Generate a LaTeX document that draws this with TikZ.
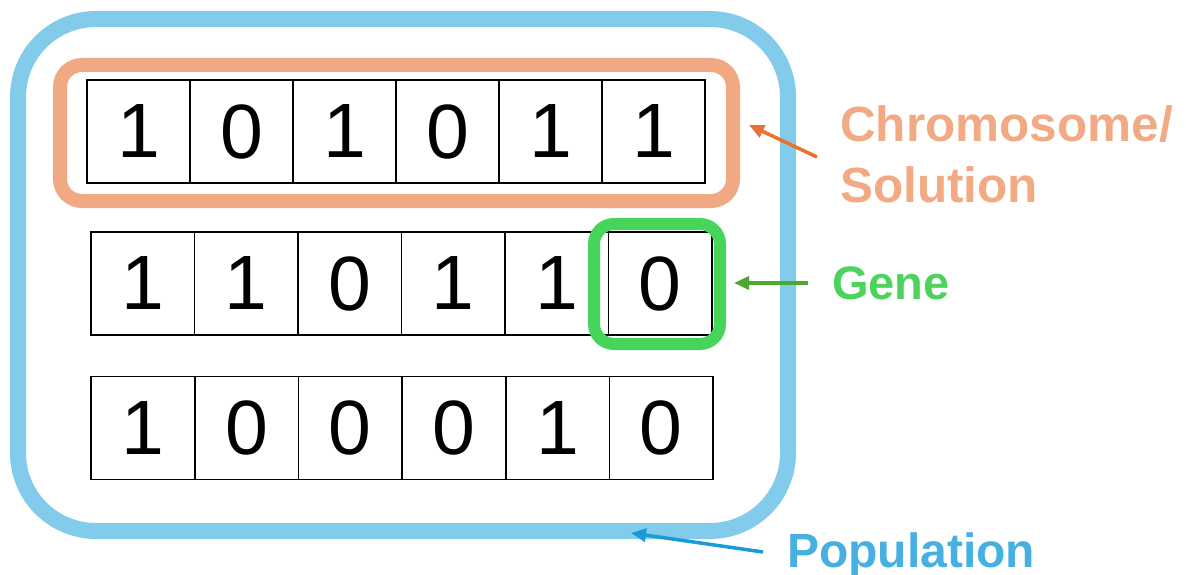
\documentclass[tikz,border=0pt]{standalone}
\usepackage{fontspec}
\setmainfont{Liberation Sans}
\usetikzlibrary{arrows.meta}
\definecolor{popbox}{HTML}{83CBEB}
\definecolor{poptext}{HTML}{45B0E1}
\definecolor{poparrow}{HTML}{1A9AD6}
\definecolor{chrbox}{HTML}{F1A983}
\definecolor{chrtext}{HTML}{F2AA84}
\definecolor{chrarrow}{HTML}{E97132}
\definecolor{genebox}{HTML}{47D45A}
\definecolor{genetext}{HTML}{4DD35D}
\definecolor{genearrow}{HTML}{4EA72E}
\tikzset{
  cell/.style={draw=black, line width=1.8pt, inner sep=0pt, minimum height=103pt,
    font=\fontsize{77}{77}\selectfont},
  lbl/.style={anchor=base west, inner sep=0pt, font=\bfseries\fontsize{48}{48}\selectfont},
  pointer/.style={line width=3.5pt, -{Triangle[length=15pt,width=13pt]}}
}
\begin{document}
\begin{tikzpicture}[x=1pt,y=-1pt]
\useasboundingbox (0,0) rectangle (1186,575);
% population box
\draw[popbox, line width=16pt, rounded corners=78pt] (18,19) rectangle (788,531);
% chromosome box
\draw[chrbox, line width=14pt, rounded corners=22pt] (60,65) rectangle (733,201);
% rows of cells
\foreach \d [count=\i] in {1,0,1,0,1,1}
  \node[cell, minimum width=103pt] (ra\i) at ({87+103*(\i-0.5)},131.5) {\d};
\foreach \d [count=\i] in {1,1,0,1,1,0}
  \node[cell, minimum width=103.5pt] (rb\i) at ({91+103.5*(\i-0.5)},283.5) {\d};
\foreach \d [count=\i] in {1,0,0,0,1,0}
  \node[cell, minimum width=103.7pt] (rc\i) at ({91+103.7*(\i-0.5)},428) {\d};
% gene box
\draw[genebox, line width=12pt, rounded corners=20pt] (594,224) rectangle (720,344);
% labels
\node[lbl, text=chrtext, font=\bfseries\fontsize{49.5}{49.5}\selectfont] (chrom) at (840,142) {Chromosome/};
\node[lbl, text=chrtext, font=\bfseries\fontsize{49.5}{49.5}\selectfont] (sol) at (840,202) {Solution};
\node[lbl, text=genetext, font=\bfseries\fontsize{47}{47}\selectfont] (gene) at (832,299) {Gene};
\node[lbl, text=poptext] (pop) at (787,567) {Population};
% arrow ends
\coordinate (chrS) at (817,157);
\coordinate (chrE) at (749,125);
\coordinate (geneS) at (808,283);
\coordinate (geneE) at (734,283);
\coordinate (popS) at (763,552);
\coordinate (popE) at (631,533);
\draw[pointer, chrarrow] (chrS) -- (chrE);
\draw[pointer, genearrow] (geneS) -- (geneE);
\draw[pointer, poparrow] (popS) -- (popE);
\end{tikzpicture}
\end{document}
